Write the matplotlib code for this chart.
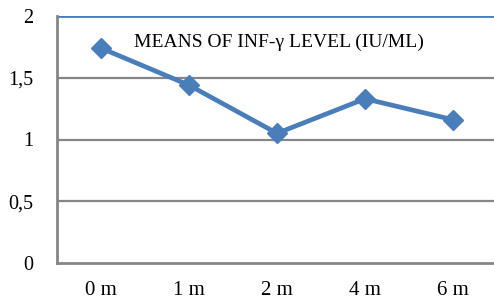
import matplotlib.pyplot as plt

# data
months = ["0 m", "1 m", "2 m", "4 m", "6 m"]
ifn_means = [1.74, 1.44, 1.05, 1.33, 1.16]
y_ticks = [0, 0.5, 1, 1.5, 2]
y_tick_labels = ["0", "0,5", "1", "1,5", "2"]

plt.rcParams["font.family"] = ["Liberation Serif", "DejaVu Serif"]

fig = plt.figure(figsize=(4.94, 2.99), dpi=100)
ax = fig.add_axes([57 / 494, 36 / 299, 440 / 494, 247 / 299])

blue = "#4A7EBB"
grey = "#868686"

x = range(len(months))
for v in y_ticks[1:-1]:
    ax.axhline(v, color=grey, lw=1.6, zorder=1)
ax.axhline(2, color=blue, lw=2, zorder=1)

ax.plot(x, ifn_means, color=blue, lw=3.4, marker="D", markersize=10,
        markerfacecolor=blue, markeredgecolor=blue, zorder=3, clip_on=False)

ax.set_xlim(-0.5, len(months) - 0.5)
ax.set_ylim(0, 2)
ax.set_xticks(list(x))
ax.set_xticklabels(months, fontsize=15)
ax.set_yticks(y_ticks)
ax.set_yticklabels(y_tick_labels, fontsize=14.5)
ax.tick_params(axis="x", length=0, pad=13)
ax.tick_params(axis="y", length=0, pad=17)

for s in ["top", "right"]:
    ax.spines[s].set_visible(False)
for s in ["left", "bottom"]:
    ax.spines[s].set_color(grey)
    ax.spines[s].set_linewidth(2)

ax.text(0.505, 0.895, "MEANS OF INF-\u03b3 LEVEL (IU/ML)", transform=ax.transAxes,
        ha="center", va="center", fontsize=14)

fig.savefig("out.png", dpi=100)
